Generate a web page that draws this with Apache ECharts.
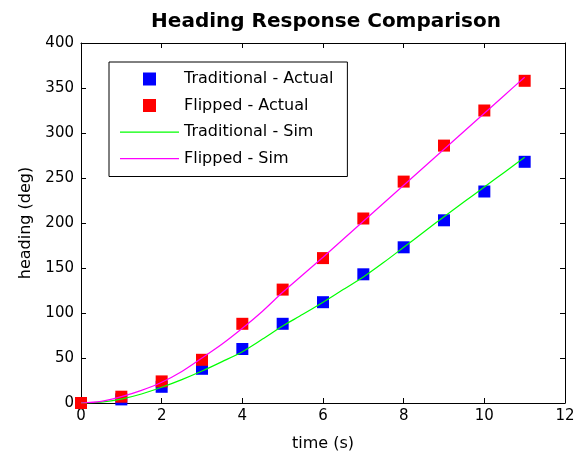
<!DOCTYPE html>
<html>
<head>
<meta charset="utf-8">
<script src="https://cdn.jsdelivr.net/npm/echarts@6/dist/echarts.min.js"></script>
<style>
html, body { margin: 0; padding: 0; background: #fff; }
#main { width: 587px; height: 457px; }
</style>
</head>
<body>
<div id="main"></div>
<script>
// measured samples (time in s, heading in deg)
var actualTime = [0, 1, 2, 3, 4, 5, 6, 7, 8, 9, 10, 11];
var tradActual = [0, 4, 18, 38, 60, 88, 112, 143, 173, 203, 235, 268];
var flipActual = [0, 7, 24, 48, 88, 126, 161, 205, 246, 286, 325, 358];

var simTime = [0, 0.5, 1, 1.5, 2, 2.5, 3, 3.5, 4, 4.5, 5, 5.5, 6, 6.5, 7, 7.5, 8, 8.5, 9, 9.5, 10, 10.5, 11];
var tradSim = [0, 1, 4.4, 10, 17.5, 26, 35.5, 46, 57, 71, 85.6, 98.5, 112, 126, 140, 156, 173, 190, 207, 223.5, 240, 256.5, 273];
var flipSim = [0, 1.8, 7, 14, 23, 35, 50, 65.5, 83, 102, 123, 142.5, 162, 182, 202, 222, 242, 262, 282, 302, 322, 342, 362];

var names = ['Traditional - Actual', 'Flipped - Actual', 'Traditional - Sim', 'Flipped - Sim'];
var colors = ['#0000ff', '#ff0000', '#00ff00', '#ff00ff'];

function pairs(xs, ys) {
    var res = [];
    for (var i = 0; i < xs.length; i++) {
        res.push([xs[i], ys[i]]);
    }
    return res;
}

var font = 'DejaVu Sans';
// legend icons: invisible moveTo points keep every icon at 59x13
var squareIcon = 'path://M0,0M59,13M23,0h13v13h-13z';
var lineIcon = 'path://M0,0M59,13M0,5.9h59v1.3h-59z';

var myChart = echarts.init(document.getElementById('main'), null, { renderer: 'canvas' });

var axisCommon = {
    axisLine: { show: true, onZero: false, lineStyle: { color: '#000', width: 1 } },
    axisTick: { show: true, inside: true, length: 5, lineStyle: { color: '#000' } },
    splitLine: { show: false }
};

var option = {
    backgroundColor: '#fff',
    animation: false,
    title: {
        text: 'Heading Response Comparison',
        left: 321,
        textAlign: 'center',
        top: 7,
        textStyle: { fontFamily: font, fontWeight: 'bold', fontSize: 20, color: '#000' }
    },
    grid: { left: 81, right: 22, top: 43, bottom: 54 },
    legend: {
        orient: 'vertical',
        left: 109,
        top: 62,
        padding: [9, 14, 10, 11],
        itemWidth: 59,
        itemHeight: 13,
        itemGap: 10.5,
        backgroundColor: '#fff',
        borderColor: '#000',
        borderWidth: 1,
        borderRadius: 0,
        itemStyle: { borderWidth: 0 },
        textStyle: { fontFamily: font, fontSize: 16, color: '#000', lineHeight: 16 },
        data: [
            { name: names[0], icon: squareIcon },
            { name: names[1], icon: squareIcon },
            { name: names[2], icon: lineIcon },
            { name: names[3], icon: lineIcon }
        ]
    },
    xAxis: [
        Object.assign({}, axisCommon, {
            type: 'value',
            min: 0, max: 12, interval: 2,
            position: 'bottom',
            name: 'time (s)',
            nameLocation: 'middle',
            nameGap: 33,
            nameTextStyle: { fontFamily: font, fontSize: 16, color: '#000' },
            axisLabel: { fontFamily: font, fontSize: 15, color: '#000', margin: 6 }
        }),
        Object.assign({}, axisCommon, {
            type: 'value',
            min: 0, max: 12, interval: 2,
            position: 'top',
            axisLabel: { show: false }
        })
    ],
    yAxis: [
        Object.assign({}, axisCommon, {
            type: 'value',
            min: 0, max: 400, interval: 50,
            position: 'left',
            name: 'heading (deg)',
            nameLocation: 'middle',
            nameGap: 47,
            nameTextStyle: { fontFamily: font, fontSize: 16, color: '#000' },
            axisLabel: { fontFamily: font, fontSize: 15, color: '#000', margin: 7 }
        }),
        Object.assign({}, axisCommon, {
            type: 'value',
            min: 0, max: 400, interval: 50,
            position: 'right',
            axisLabel: { show: false }
        })
    ],
    series: [
        {
            name: names[0],
            type: 'scatter',
            symbol: 'rect',
            symbolSize: 12,
            itemStyle: { color: colors[0], opacity: 1 },
            data: pairs(actualTime, tradActual)
        },
        {
            name: names[1],
            type: 'scatter',
            symbol: 'rect',
            symbolSize: 12,
            itemStyle: { color: colors[1], opacity: 1 },
            data: pairs(actualTime, flipActual)
        },
        {
            name: names[2],
            type: 'line',
            symbol: 'none',
            showSymbol: false,
            smooth: 0.3,
            lineStyle: { color: colors[2], width: 1.2 },
            itemStyle: { color: colors[2] },
            z: 3,
            data: pairs(simTime, tradSim)
        },
        {
            name: names[3],
            type: 'line',
            symbol: 'none',
            showSymbol: false,
            smooth: 0.3,
            lineStyle: { color: colors[3], width: 1.2 },
            itemStyle: { color: colors[3] },
            z: 3,
            data: pairs(simTime, flipSim)
        }
    ]
};

myChart.setOption(option);
</script>
</body>
</html>
